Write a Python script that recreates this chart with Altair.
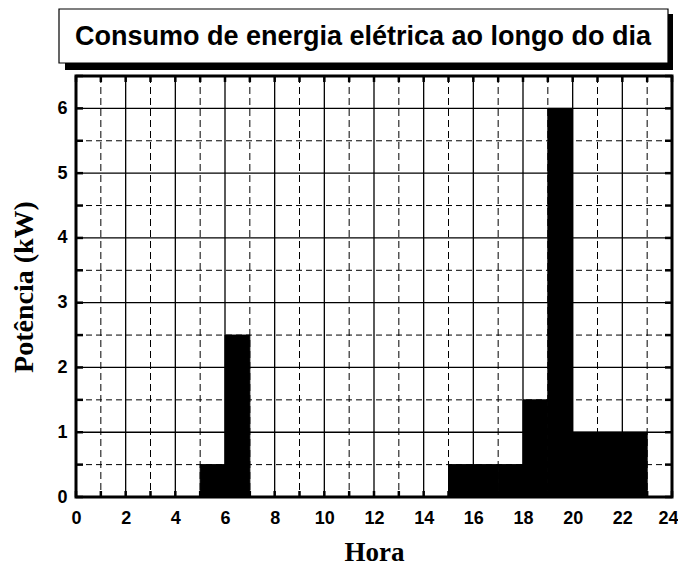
import altair as alt
import pandas as pd

# Data: consumption per hour interval (start hour, power kW)
hour_start = [5, 6, 15, 16, 17, 18, 19, 20, 21, 22]
power_kw = [0.5, 2.5, 0.5, 0.5, 0.5, 1.5, 6.0, 1.0, 1.0, 1.0]

x_ticks = [0, 2, 4, 6, 8, 10, 12, 14, 16, 18, 20, 22, 24]
y_ticks = [0, 1, 2, 3, 4, 5, 6]

grid_x_major = [2, 4, 6, 8, 10, 12, 14, 16, 18, 20, 22]
grid_x_minor = [1, 3, 5, 7, 9, 11, 13, 15, 17, 19, 21, 23]
grid_y_major = [1, 2, 3, 4, 5, 6]
grid_y_minor = [0.5, 1.5, 2.5, 3.5, 4.5, 5.5]

all_hours = list(range(0, 25))
all_halves = [0.5 * i for i in range(0, 14)]

title_text = "Consumo de energia elétrica ao longo do dia"

W, H = 596, 421

bars_df = pd.DataFrame({"start": hour_start, "power": power_kw})
bars_df["end"] = bars_df["start"] + 1

xs = alt.Scale(domain=[0, 24], nice=False, zero=False)
ys = alt.Scale(domain=[0, 6.5], nice=False, zero=True)

label_font = "Liberation Sans"
title_font = "Liberation Serif"

x_axis = alt.Axis(values=x_ticks, format="d", grid=False, ticks=False, domain=False,
                  labelFont=label_font, labelFontSize=18, labelFontWeight="bold",
                  labelColor="black", labelPadding=12, labelFlush=False,
                  labelOffset=alt.condition("datum.value == 24", alt.value(-4), alt.value(0)),
                  title="Hora", titleFont=title_font, titleFontSize=27,
                  titleFontWeight="bold", titleColor="black", titlePadding=12)
y_axis = alt.Axis(values=y_ticks, format="d", grid=False, ticks=False, domain=False,
                  labelFont=label_font, labelFontSize=18, labelFontWeight="bold",
                  labelColor="black", labelPadding=9, labelFlush=False,
                  title="Potência (kW)", titleFont=title_font, titleFontSize=28,
                  titleFontWeight="bold", titleColor="black", titlePadding=18)


def X(field):
    return alt.X(field, scale=xs, axis=x_axis, title="Hora")


def Y(field):
    return alt.Y(field, scale=ys, axis=y_axis, title="Potência (kW)")


# grid lines
gxM = alt.Chart(pd.DataFrame({"x": grid_x_major})).mark_rule(color="black", strokeWidth=1.3).encode(x=X("x:Q"))
gxm = alt.Chart(pd.DataFrame({"x": grid_x_minor})).mark_rule(color="black", strokeWidth=1, strokeDash=[7, 4]).encode(x=X("x:Q"))
gyM = alt.Chart(pd.DataFrame({"y": grid_y_major})).mark_rule(color="black", strokeWidth=1.3).encode(y=Y("y:Q"))
gym = alt.Chart(pd.DataFrame({"y": grid_y_minor})).mark_rule(color="black", strokeWidth=1, strokeDash=[6, 4]).encode(y=Y("y:Q"))

# inward ticks
hours_df = pd.DataFrame({"x": all_hours})
halves_df = pd.DataFrame({"y": all_halves})
tick_bottom = alt.Chart(hours_df).mark_rule(color="black", strokeWidth=2.5).encode(
    x=X("x:Q"), y=alt.value(H), y2=alt.value(H - 6))
tick_top = alt.Chart(hours_df).mark_rule(color="black", strokeWidth=2.5).encode(
    x=X("x:Q"), y=alt.value(0), y2=alt.value(6))
tick_left = alt.Chart(halves_df).mark_rule(color="black", strokeWidth=2.5).encode(
    y=Y("y:Q"), x=alt.value(0), x2=alt.value(7))
tick_right = alt.Chart(halves_df).mark_rule(color="black", strokeWidth=2.5).encode(
    y=Y("y:Q"), x=alt.value(W), x2=alt.value(W - 7))

bars = alt.Chart(bars_df).mark_rect(color="black", stroke="black", strokeWidth=1).encode(
    x=X("start:Q"), x2="end:Q",
    y=Y("power:Q"), y2=alt.datum(0))

one = pd.DataFrame({"t": [title_text]})
shadow = alt.Chart(one).mark_rect(color="black").encode(
    x=alt.value(-11), x2=alt.value(597), y=alt.value(-62), y2=alt.value(-6))
box = alt.Chart(one).mark_rect(fill="white", stroke="black", strokeWidth=1.2).encode(
    x=alt.value(-17), x2=alt.value(592), y=alt.value(-67), y2=alt.value(-13))
ttext = alt.Chart(one).mark_text(font=label_font, fontSize=27, fontWeight="bold", color="black",
                                 align="center", baseline="middle").encode(
    text="t:N", x=alt.value(287), y=alt.value(-39))

chart = alt.layer(gxm, gym, gxM, gyM, bars, tick_bottom, tick_top, tick_left, tick_right,
                  shadow, box, ttext).properties(
    width=W, height=H,
    autosize=alt.AutoSizeParams(type="none"),
    padding={"left": 68, "top": 68, "right": 6, "bottom": 69},
    background="white",
).configure_view(stroke="black", strokeWidth=3)

chart.save("out.html", embed_options={"renderer": "svg", "actions": False})
